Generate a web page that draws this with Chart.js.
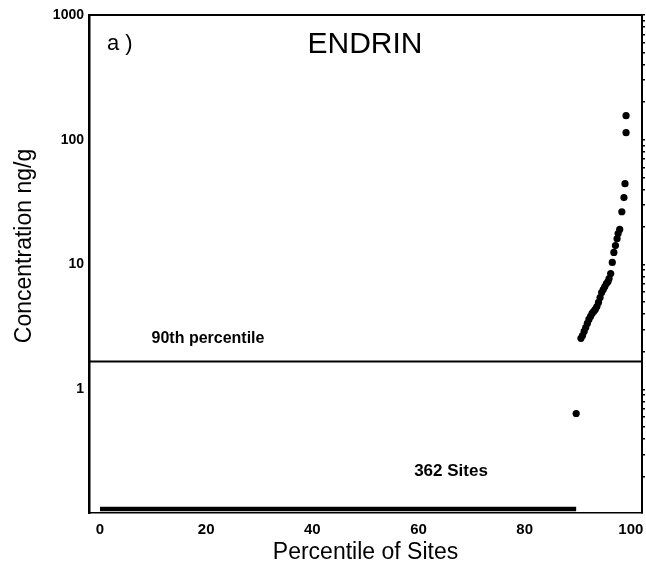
<!DOCTYPE html>
<html>
<head>
<meta charset="utf-8">
<script src="https://cdn.jsdelivr.net/npm/chart.js@4.4.1/dist/chart.umd.min.js"></script>
<style>
  html, body { margin: 0; padding: 0; background: #fff; }
  #wrap { width: 646px; height: 574px; }
</style>
</head>
<body>
<div id="wrap"><canvas id="endrinChart"></canvas></div>
<script>
const yTicks = [1, 10, 100, 1000];
const xTicks = [0, 20, 40, 60, 80, 100];

// non-detects run along the bottom from 0 to ~90th percentile
const nondetectX = [0, 89.7];
const nondetectY = [0.11, 0.11];

// detected concentrations (ng/g) by percentile of sites
const detectX = [89.7, 90.6, 90.9, 91.2, 91.5, 91.8, 92.1, 92.4, 92.7, 93.0, 93.3, 93.6,
  93.9, 94.2, 94.5, 94.8, 95.1, 95.4, 95.7, 95.9, 96.2, 96.5, 96.8, 97.1, 97.4, 97.6,
  97.9, 98.3, 98.7, 98.9, 99.1, 99.1];
const detectY = [0.64, 2.56, 2.70, 2.91, 3.13, 3.37, 3.63, 3.84, 4.06, 4.21, 4.37, 4.61,
  4.97, 5.44, 5.97, 6.31, 6.67, 7.05, 7.31, 7.73, 8.47, 10.4, 12.5, 14.2, 16.1, 17.7,
  19.1, 26.5, 34.4, 44.5, 114, 156];

// 90th percentile line
const pct90X = [-2.07, 102.1];
const pct90Y = [1.67, 1.67];

const xMin = -2.07, xMax = 102.1;
const yMin = 0.102, yMax = 1000;

const FONT = "'Liberation Sans', Arial, sans-serif";

const pts = (xs, ys) => xs.map((x, i) => ({ x: x, y: ys[i] }));

const textPlugin = {
  id: "texts",
  afterDraw(chart) {
    const ctx = chart.ctx;
    ctx.save();
    ctx.fillStyle = "#000";
    ctx.textBaseline = "middle";

    ctx.font = "22px " + FONT;
    ctx.textAlign = "left";
    ctx.fillText("a )", 107, 44);

    ctx.font = "30px " + FONT;
    ctx.textAlign = "center";
    ctx.fillText("ENDRIN", 365, 45);

    ctx.font = "bold 16px " + FONT;
    ctx.fillText("90th percentile", 208, 339);

    ctx.font = "bold 17px " + FONT;
    ctx.fillText("362 Sites", 451, 471);

    ctx.font = "23px " + FONT;
    ctx.translate(25, 246);
    ctx.rotate(-Math.PI / 2);
    ctx.fillText("Concentration ng/g", 0, 0);
    ctx.restore();
  },
};

const ctx = document.getElementById("endrinChart").getContext("2d");

new Chart(ctx, {
  type: "scatter",
  data: {
    datasets: [
      {
        label: "Non-detects",
        type: "line",
        data: pts(nondetectX, nondetectY),
        borderColor: "#000",
        borderWidth: 4.5,
        pointRadius: 0,
        fill: false,
      },
      {
        label: "90th percentile",
        type: "line",
        data: pts(pct90X, pct90Y),
        borderColor: "#000",
        borderWidth: 2,
        pointRadius: 0,
        fill: false,
      },
      {
        label: "Detects",
        data: pts(detectX, detectY),
        backgroundColor: "#000",
        borderWidth: 0,
        pointRadius: 3.6,
      },
    ],
  },
  options: {
    responsive: true,
    maintainAspectRatio: false,
    animation: false,
    layout: { padding: 0 },
    plugins: {
      legend: { display: false },
      tooltip: { enabled: false },
    },
    scales: {
      x: {
        type: "linear",
        min: xMin,
        max: xMax,
        afterBuildTicks: (s) => { s.ticks = xTicks.map((v) => ({ value: v })); },
        afterFit: (s) => { s.height = 61; s.paddingLeft = 0; s.paddingRight = 0; },
        grid: { display: false, drawTicks: false },
        border: { display: true, color: "#000", width: 1.5, dash: [2, 3] },
        ticks: { color: "#000", font: { family: FONT, size: 15, weight: "bold" }, padding: 8 },
        title: {
          display: true,
          text: "Percentile of Sites",
          color: "#000",
          font: { family: FONT, size: 23 },
          padding: { top: 0, bottom: 8 },
        },
      },
      x2: {
        type: "linear",
        position: "top",
        min: xMin,
        max: xMax,
        afterFit: (s) => { s.height = 15; s.paddingLeft = 0; s.paddingRight = 0; },
        grid: { display: false, drawTicks: false },
        border: { display: true, color: "#000", width: 2 },
        ticks: { display: false },
      },
      y: {
        type: "logarithmic",
        min: yMin,
        max: yMax,
        afterBuildTicks: (s) => { s.ticks = yTicks.map((v) => ({ value: v })); },
        afterFit: (s) => { s.width = 89; s.paddingTop = 0; s.paddingBottom = 0; },
        grid: { display: false, drawTicks: false },
        border: { display: true, color: "#000", width: 2.5 },
        ticks: {
          color: "#000",
          font: { family: FONT, size: 14, weight: "bold" },
          padding: 5,
          callback: (v) => String(v),
        },
      },
      y2: {
        type: "logarithmic",
        position: "right",
        min: yMin,
        max: yMax,
        afterBuildTicks: (s) => {
          const t = [];
          [0.1, 1, 10, 100].forEach((d) => {
            [1, 2, 3, 4, 5, 6, 7, 8, 9].forEach((m) => {
              const v = d * m;
              if (v >= yMin && v <= yMax) t.push({ value: v });
            });
          });
          t.push({ value: 1000 });
          s.ticks = t;
        },
        afterFit: (s) => { s.width = 3; s.paddingTop = 0; s.paddingBottom = 0; },
        grid: { display: true, drawOnChartArea: false, drawTicks: true, tickLength: 3, color: "#000", lineWidth: 1.5 },
        border: { display: true, color: "#000", width: 2 },
        ticks: { display: false, autoSkip: false },
      },
    },
  },
  plugins: [textPlugin],
});
</script>
</body>
</html>
